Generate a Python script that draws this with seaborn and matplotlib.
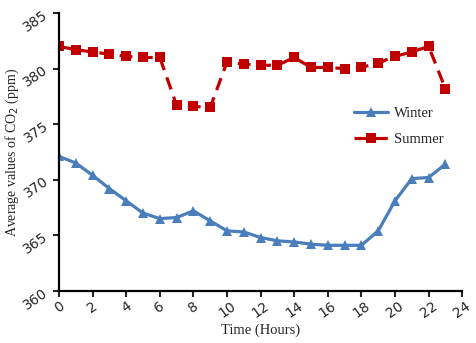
import numpy as np
import pandas as pd
import seaborn as sns
import matplotlib.pyplot as plt

hours = list(range(24))
winter = [372.1, 371.5, 370.4, 369.2, 368.1, 367.0, 366.5, 366.6, 367.2, 366.3,
          365.4, 365.3, 364.8, 364.5, 364.4, 364.2, 364.1, 364.1, 364.1, 365.4,
          368.1, 370.1, 370.2, 371.4]
summer = [382.0, 381.7, 381.5, 381.3, 381.1, 381.0, 381.0, 376.7, 376.6, 376.5,
          380.6, 380.4, 380.3, 380.3, 381.0, 380.1, 380.1, 380.0, 380.1, 380.5,
          381.1, 381.5, 382.0, 378.2]

sns.set_style("ticks")
plt.rcParams['font.family'] = ['DejaVu Sans']

fig = plt.figure(figsize=(4.76, 3.43), dpi=100)
ax = fig.add_axes([0.124, 0.152, 0.847, 0.81])

sns.lineplot(x=hours, y=winter, ax=ax, color='#4a7ebb', linewidth=2.3,
             marker='^', markersize=7.5, markeredgewidth=0, label='Winter')
sns.lineplot(x=hours, y=summer, ax=ax, color='#c00000', linewidth=2.3,
             marker='s', markersize=7.5, markeredgewidth=0, label='Summer')
ax.lines[1].set_dashes([4, 2.4])

ax.set_xlim(0, 24)
ax.set_ylim(360, 385)
ax.set_xticks(range(0, 25, 2))
ax.set_yticks(range(360, 386, 5))
for lab in ax.get_xticklabels():
    lab.set_rotation(35)
for lab in ax.get_yticklabels():
    lab.set_rotation(35)
ax.tick_params(labelsize=10, width=1.5, length=4, direction='out', pad=2)
for s in ['left', 'bottom']:
    ax.spines[s].set_linewidth(1.6)
    ax.spines[s].set_color('black')
sns.despine(ax=ax)

ax.set_xlabel('Time (Hours)', family='Liberation Serif', fontsize=10.5, labelpad=2)
ax.set_ylabel('Average values of CO$_2$ (ppm)', family='Liberation Serif', fontsize=10, labelpad=0)

leg = ax.legend(loc='upper left', bbox_to_anchor=(0.7, 0.71), frameon=False,
                prop={'family': 'Liberation Serif', 'size': 10.5},
                handlelength=2.3, labelspacing=0.9, handletextpad=0.4)

fig.savefig('out.png', dpi=100)
